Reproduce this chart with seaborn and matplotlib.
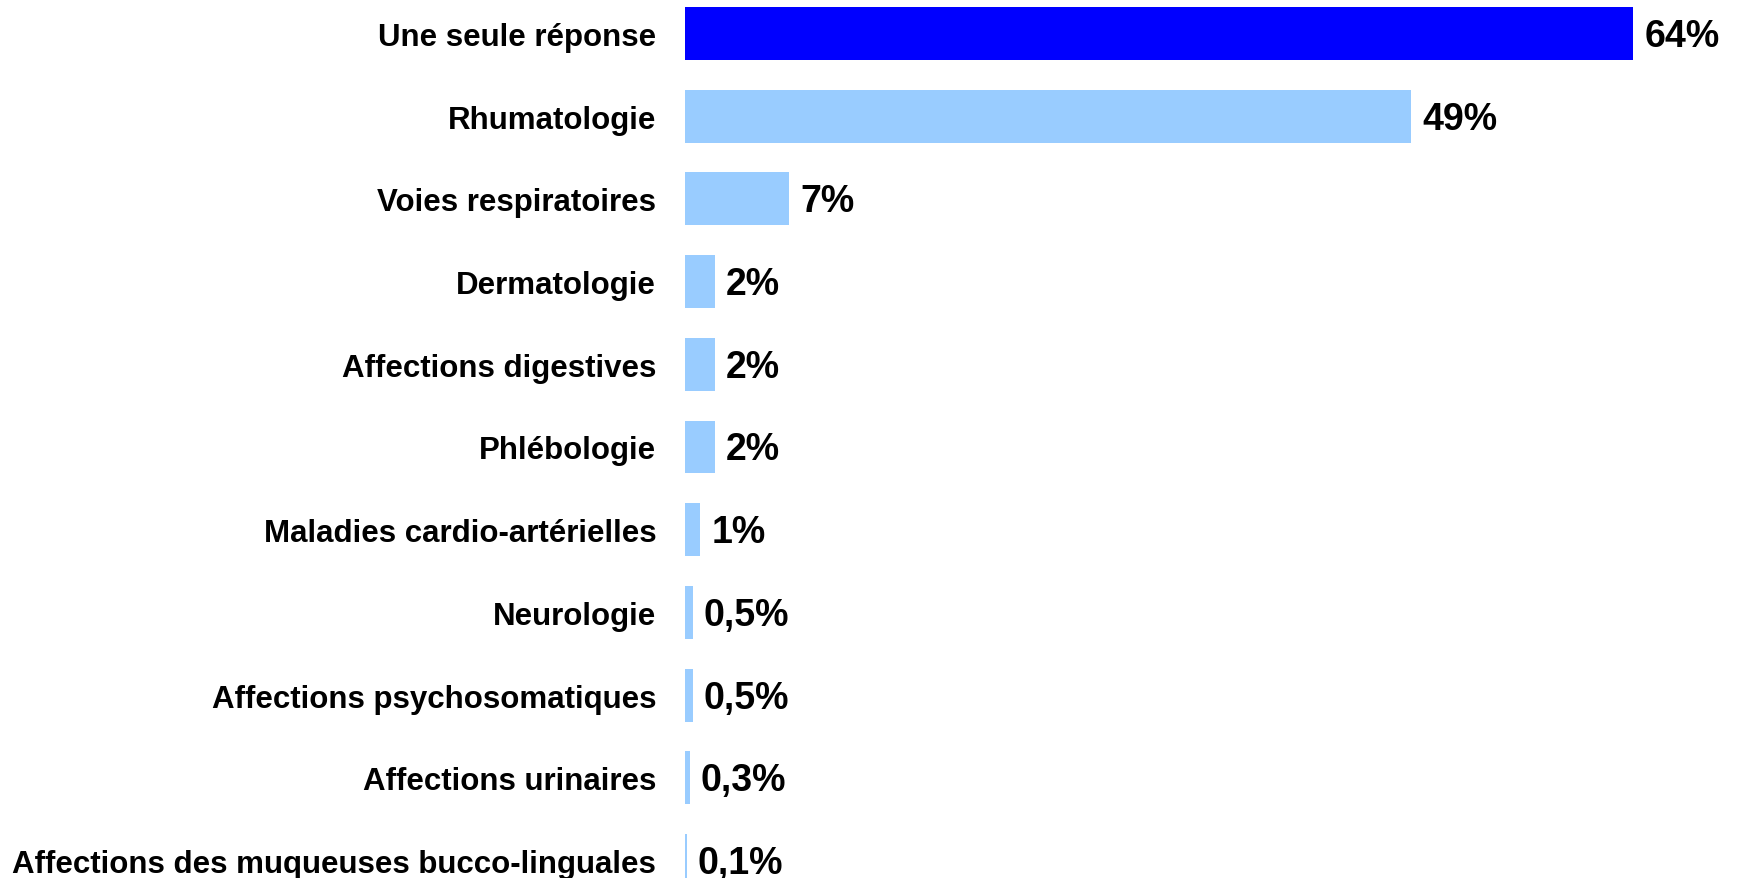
import matplotlib
matplotlib.use("Agg")
import matplotlib.pyplot as plt
import seaborn as sns
import pandas as pd

categories = [
    "Une seule réponse",
    "Rhumatologie",
    "Voies respiratoires",
    "Dermatologie",
    "Affections digestives",
    "Phlébologie",
    "Maladies cardio-artérielles",
    "Neurologie",
    "Affections psychosomatiques",
    "Affections urinaires",
    "Affections des muqueuses bucco-linguales",
]
values = [64, 49, 7, 2, 2, 2, 1, 0.5, 0.5, 0.3, 0.1]
colors = ["#0000FF"] + ["#99CCFF"] * (len(categories) - 1)

sns.set_theme(style="white")
plt.rcParams["font.family"] = ["Liberation Sans", "DejaVu Sans"]

df = pd.DataFrame({"categorie": categories, "valeur": values})

fig = plt.figure(figsize=(17.39, 8.79), dpi=100)
ax = fig.add_axes([685.3 / 1739, 0, 1 - 685.3 / 1739, 1])

sns.barplot(
    data=df, x="valeur", y="categorie", hue="categorie",
    palette=colors, legend=False, orient="h", width=0.64,
    saturation=1, ax=ax, linewidth=0,
)

ax.set_xlim(0, (1739 - 685.3) / 14.81)
ax.set_ylim((879 - 34.5) / 82.7, -34.5 / 82.7)

for i, v in enumerate(values):
    label = f"{v:g}%".replace(".", ",")
    ax.annotate(label, xy=(v, i), xytext=(8, -1.8), textcoords="offset points",
                ha="left", va="center", fontsize=27, fontweight="bold",
                color="black")

ax.set_xlabel("")
ax.set_ylabel("")
ax.set_xticks([])
ax.tick_params(axis="y", length=0, pad=21)
for t in ax.get_yticklabels():
    t.set_fontsize(22.5)
    t.set_fontweight("bold")
    t.set_color("black")
for s in ax.spines.values():
    s.set_visible(False)

fig.savefig("out.png", dpi=100)
